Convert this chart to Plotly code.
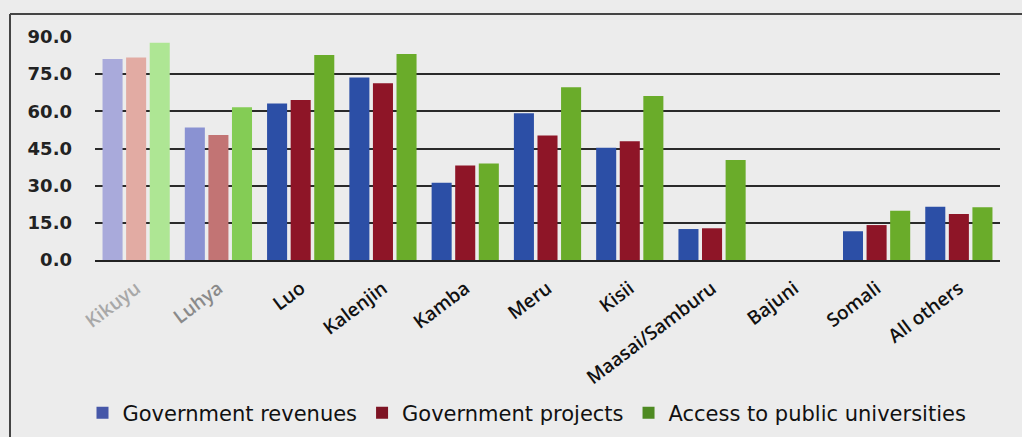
import plotly.graph_objects as go

categories = ["Kikuyu", "Luhya", "Luo", "Kalenjin", "Kamba", "Meru", "Kisii",
              "Maasai/Samburu", "Bajuni", "Somali", "All others"]
gov_revenues = [81.1, 53.5, 63.2, 73.7, 31.2, 59.2, 45.3, 12.5, 0.0, 11.6, 21.5]
gov_projects = [81.7, 50.4, 64.6, 71.3, 38.1, 50.2, 47.9, 12.8, 0.0, 14.1, 18.6]
uni_access = [87.7, 61.6, 82.7, 83.1, 38.9, 69.7, 66.2, 40.4, 0.0, 19.9, 21.3]
series_names = ["Government revenues", "Government projects", "Access to public universities"]
y_ticks = [0, 15, 30, 45, 60, 75, 90]
y_tick_labels = ["0.0", "15.0", "30.0", "45.0", "60.0", "75.0", "90.0"]

# styling (faded first two groups mimic the scanned original)
blue = ["#a9aadb", "#8a92d2"] + ["#2c4fa6"] * 9
red = ["#e2aba3", "#c27474"] + ["#8e1527"] * 9
green = ["#aee694", "#84cc55"] + ["#6aac2a"] * 9
legend_cols = ["#4657a8", "#7e1424", "#4e8a22"]
tick_text = ["<span style='color:#a8a8a8'>Kikuyu</span>",
             "<span style='color:#8a8a8a'>Luhya</span>"] + categories[2:]

fig = go.Figure()
for name, vals, col in [(series_names[0], gov_revenues, blue),
                        (series_names[1], gov_projects, red),
                        (series_names[2], uni_access, green)]:
    fig.add_trace(go.Bar(x=categories, y=vals, name=name, showlegend=False,
                         marker=dict(color=col, line=dict(width=0))))
for name, lc in zip(series_names, legend_cols):
    fig.add_trace(go.Scatter(x=[None], y=[None], mode="markers", name=name,
                             marker=dict(symbol="square", size=12, color=lc)))

W, H = 1022, 437
L, R, T, B = 95, 22, 37, 177
pw, ph = W - L - R, H - T - B

fig.update_layout(
    width=W, height=H,
    margin=dict(l=L, r=R, t=T, b=B, autoexpand=False),
    paper_bgcolor="#ececec", plot_bgcolor="#ececec",
    barmode="group", bargap=0.14, bargroupgap=0.15,
    font=dict(family="DejaVu Sans", color="#1a1a1a"),
    showlegend=True,
    legend=dict(orientation="h", x=(527 - L) / pw, xanchor="center",
                y=-(413 - 260) / ph, yanchor="middle",
                font=dict(size=21, family="DejaVu Sans", color="#111"),
                itemwidth=30, traceorder="normal", bgcolor="rgba(0,0,0,0)"),
    xaxis=dict(tickmode="array", tickvals=categories, ticktext=tick_text,
               tickangle=-37, tickfont=dict(size=19, family="Open Sans", weight=600, color="#111"),
               showgrid=False, showline=True, linecolor="#222", linewidth=2,
               ticks="", ticklabelstandoff=8),
    yaxis=dict(range=[0, 90], tickvals=y_ticks, ticktext=y_tick_labels,
               tickfont=dict(size=18, family="DejaVu Sans", weight=600, color="#222"),
               showgrid=True, gridcolor="#2a2a2a", gridwidth=1.8,
               zeroline=False, showline=False, ticks="", ticklabelstandoff=22),
    shapes=[
        dict(type="line", xref="paper", yref="paper",
             x0=(10 - L) / pw, x1=(W - L) / pw + 0.01,
             y0=1 + (T - 14) / ph, y1=1 + (T - 14) / ph,
             line=dict(color="#444", width=2)),
        dict(type="line", xref="paper", yref="paper",
             x0=(10 - L) / pw, x1=(10 - L) / pw,
             y0=1 + (T - 14) / ph, y1=-(H - 260 + 5) / ph,
             line=dict(color="#444", width=2)),
    ],
)

fig.write_html("out.html")
